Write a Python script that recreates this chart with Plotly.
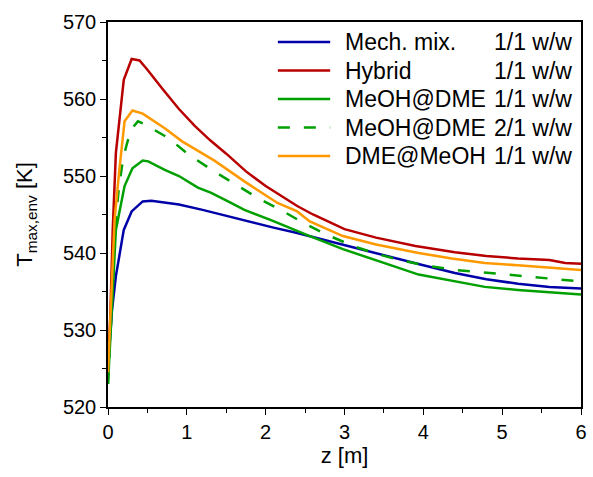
import plotly.graph_objects as go

# Axial position z [m] and maximum environment temperature [K] for each catalyst bed
z_mech = [0, 0.05, 0.1, 0.2, 0.3, 0.44, 0.55, 0.72, 0.9, 1.2, 1.5, 1.8, 2.1, 2.4, 2.7, 3.0,
          3.4, 3.7, 4.0, 4.4, 4.8, 5.2, 5.6, 6.0]
T_mech = [525, 532.5, 537, 543, 545.4, 546.7, 546.8, 546.6, 546.3, 545.6, 544.8, 544.0, 543.3,
          542.6, 541.8, 541.1, 540.0, 539.2, 538.4, 537.4, 536.6, 536.0, 535.6, 535.4]

z_hyb = [0, 0.03, 0.06, 0.1, 0.2, 0.3, 0.4, 0.5, 0.7, 0.9, 1.1, 1.3, 1.5, 1.75, 2.0, 2.2, 2.4,
         2.6, 3.0, 3.4, 3.9, 4.4, 4.8, 5.2, 5.6, 5.8, 6.0]
T_hyb = [525, 532, 543, 553, 562.5, 565.2, 565.0, 563.8, 561.2, 558.7, 556.5, 554.6, 552.9,
         550.6, 548.7, 547.4, 546.1, 545.0, 543.1, 542.0, 540.9, 540.1, 539.6, 539.3, 539.1,
         538.7, 538.6]

z_md11 = [0, 0.05, 0.1, 0.21, 0.31, 0.44, 0.51, 0.72, 0.9, 1.14, 1.31, 1.56, 1.73, 2.06, 2.4,
          2.56, 2.98, 3.4, 3.65, 3.94, 4.36, 4.78, 5.2, 5.62, 6.0]
T_md11 = [523, 533, 543, 548.7, 551.0, 552.0, 551.9, 550.8, 550.0, 548.5, 547.8, 546.5, 545.6,
          544.3, 542.8, 542.2, 540.5, 539.0, 538.2, 537.2, 536.4, 535.6, 535.2, 534.9, 534.6]

z_md21 = [0, 0.05, 0.1, 0.14, 0.19, 0.23, 0.29, 0.38, 0.45, 0.77, 1.02, 1.33, 1.6, 1.89, 2.19,
          2.48, 2.77, 3.11, 3.44, 3.69, 4.07, 4.4, 4.74, 5.07, 5.41, 5.74, 6.0]
T_md21 = [523, 533, 544.4, 548.7, 552.1, 553.8, 556.0, 557.1, 556.8, 554.9, 552.8, 550.7,
          549.0, 547.2, 545.6, 543.9, 542.4, 540.9, 539.8, 539.1, 538.3, 537.8, 537.5, 537.2,
          536.9, 536.6, 536.3]

z_dm11 = [0, 0.05, 0.084, 0.14, 0.21, 0.31, 0.44, 0.72, 0.94, 1.35, 1.73, 2.15, 2.4, 2.56,
          2.98, 3.4, 3.94, 4.36, 4.78, 5.2, 5.62, 6.0]
T_dm11 = [524.5, 537, 544.4, 550.4, 557.1, 558.5, 558.1, 556.2, 554.5, 552.0, 549.3, 546.5,
          545.4, 544.1, 542.2, 541.1, 540.0, 539.3, 538.7, 538.4, 538.1, 537.8]

# Legend labels: catalyst configuration and mass ratio
labels = ["Mech. mix.", "Hybrid", "MeOH@DME", "MeOH@DME", "DME@MeOH"]
ratios = ["1/1 w/w", "1/1 w/w", "1/1 w/w", "2/1 w/w", "1/1 w/w"]

series = [
    (z_mech, T_mech, "#0000A8", "solid"),
    (z_hyb, T_hyb, "#B80000", "solid"),
    (z_md11, T_md11, "#00A000", "solid"),
    (z_md21, T_md21, "#00A000", "12px,14px"),
    (z_dm11, T_dm11, "#FF9900", "solid"),
]

W, H = 593, 477
ML, MR, MT, MB = 108, 6, 22, 70

fig = go.Figure()
for (x, y, color, dash), lab, rat in zip(series, labels, ratios):
    fig.add_trace(go.Scatter(x=x, y=y, mode="lines", name=f"{lab} {rat}",
                             line=dict(color=color, width=2.5, dash=dash),
                             showlegend=False))

font_family = "Liberation Sans, Arial, sans-serif"
leg_font = dict(family=font_family, size=23, color="black")

# Legend drawn in the upper-right corner of the plot area (paper coordinates)
pw, ph = W - ML - MR, H - MT - MB
def px_x(px):
    return (px - ML) / pw
def px_y(py):
    return 1 - (py - MT) / ph

row_y = [42, 70.5, 99, 127.5, 156]
for (x, y, color, dash), lab, rat, ry in zip(series, labels, ratios, row_y):
    fig.add_shape(type="line", xref="paper", yref="paper",
                  x0=px_x(280), x1=px_x(333), y0=px_y(ry), y1=px_y(ry),
                  line=dict(color=color, width=2.5, dash=dash))
    fig.add_annotation(xref="paper", yref="paper", x=px_x(346), y=px_y(ry),
                       xanchor="left", yanchor="middle", text=lab, showarrow=False,
                       font=leg_font)
    fig.add_annotation(xref="paper", yref="paper", x=px_x(580), y=px_y(ry),
                       xanchor="right", yanchor="middle", text=rat, showarrow=False,
                       font=leg_font)

axis_common = dict(
    showline=True, linecolor="black", linewidth=1.5, mirror=True,
    ticks="outside", tickcolor="black", tickwidth=1.2, ticklen=6,
    showgrid=False, zeroline=False,
    tickfont=dict(family=font_family, size=20, color="black"),
)

fig.update_xaxes(
    range=[0, 6], tick0=0, dtick=1,
    minor=dict(ticks="outside", dtick=0.5, ticklen=4, tickcolor="black", tickwidth=1.2),
    title=dict(text="z [m]", font=dict(family=font_family, size=22, color="black"), standoff=6),
    **axis_common,
)
fig.update_yaxes(
    range=[520, 570], tick0=520, dtick=10,
    minor=dict(ticks="outside", dtick=5, ticklen=4, tickcolor="black", tickwidth=1.2),
    title=dict(text="T<sub>max,env</sub> [K]", font=dict(family=font_family, size=22, color="black"),
               standoff=24),
    **axis_common,
)

fig.update_layout(
    width=W, height=H,
    margin=dict(l=ML, r=MR, t=MT, b=MB),
    paper_bgcolor="white", plot_bgcolor="white",
    showlegend=False,
)

fig.write_html("out.html")
